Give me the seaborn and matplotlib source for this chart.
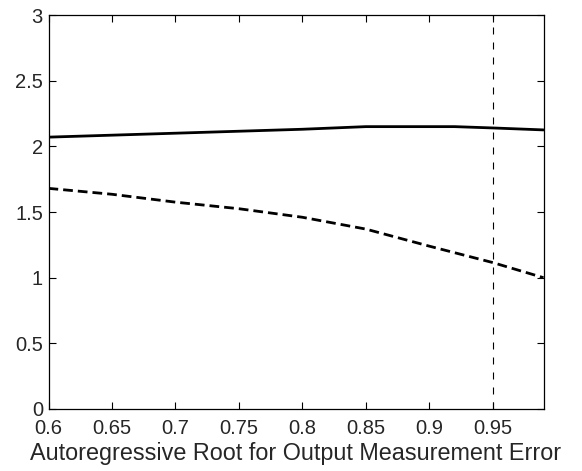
import matplotlib
matplotlib.use("Agg")
import matplotlib.pyplot as plt
import seaborn as sns
import pandas as pd

rho = [0.60, 0.65, 0.70, 0.75, 0.80, 0.85, 0.90, 0.92, 0.95, 0.99]
solid_vals = [2.07, 2.085, 2.10, 2.115, 2.13, 2.15, 2.15, 2.15, 2.14, 2.125]
dashed_vals = [1.68, 1.635, 1.575, 1.525, 1.46, 1.37, 1.24, 1.19, 1.115, 1.00]
vline_x = 0.95
xticks = [0.6, 0.65, 0.7, 0.75, 0.8, 0.85, 0.9, 0.95]
xticklabels = ["0.6", "0.65", "0.7", "0.75", "0.8", "0.85", "0.9", "0.95"]
yticks = [0, 0.5, 1, 1.5, 2, 2.5, 3]
yticklabels = ["0", "0.5", "1", "1.5", "2", "2.5", "3"]
xlabel = "Autoregressive Root for Output Measurement Error"

sns.set_theme(style="white")
plt.rcParams["font.family"] = ["Liberation Sans", "DejaVu Sans"]

df = pd.DataFrame({"rho": rho, "solid": solid_vals, "dashed": dashed_vals})

fig = plt.figure(figsize=(5.82, 4.71), dpi=100)
ax = fig.add_axes([48.5 / 582, (471 - 409) / 471, 495 / 582, 394 / 471])

sns.lineplot(data=df, x="rho", y="solid", ax=ax, color="black", linewidth=2.0)
sns.lineplot(data=df, x="rho", y="dashed", ax=ax, color="black", linewidth=2.0,
             linestyle=(0, (3.5, 1.8)))
ax.axvline(vline_x, color="black", linewidth=0.8, linestyle=(0, (6.3, 7.2)))

ax.set_xlim(0.6, 0.99)
ax.set_ylim(0, 3)
ax.set_xticks(xticks)
ax.set_xticklabels(xticklabels)
ax.set_yticks(yticks)
ax.set_yticklabels(yticklabels)
ax.set_xlabel(xlabel, fontsize=16.8, labelpad=3)
ax.set_ylabel("")
ax.tick_params(direction="in", length=5, width=0.8, color="black",
               labelsize=14.5, top=True, right=True, bottom=True, left=True)
ax.tick_params(axis="x", pad=7)
ax.tick_params(axis="y", pad=4)
for s in ax.spines.values():
    s.set_visible(True)
    s.set_color("black")
    s.set_linewidth(0.9)
ax.grid(False)
ax.set_facecolor("white")
fig.patch.set_facecolor("white")

fig.savefig("out.png", dpi=100)
